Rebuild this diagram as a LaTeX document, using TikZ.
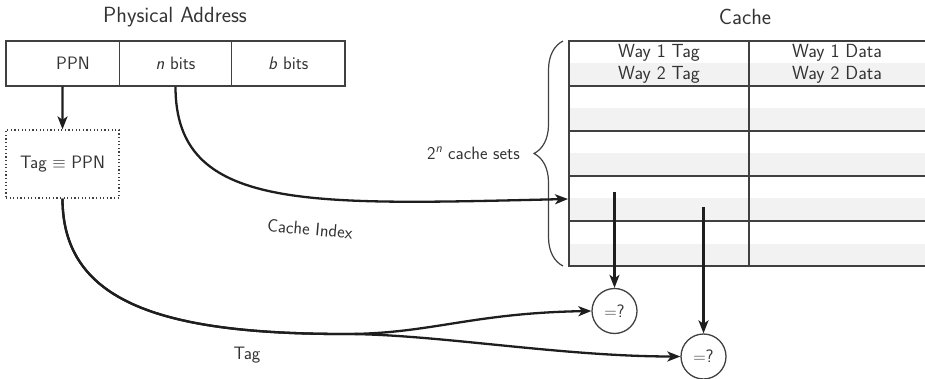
\documentclass[tikz,border=0pt]{standalone}
\usetikzlibrary{arrows.meta,decorations.pathreplacing}
\definecolor{ink}{HTML}{333333}
\definecolor{rule}{HTML}{404040}
\definecolor{wire}{HTML}{1E1E1E}
\definecolor{rowshade}{HTML}{F2F2F2}
\tikzset{
  txt/.style={font=\fontsize{18}{21}\selectfont\sffamily, text=ink, inner sep=0pt},
  celltxt/.style={font=\fontsize{19}{22}\selectfont\sffamily, text=ink, inner sep=0pt},
  heading/.style={font=\fontsize{22}{26}\selectfont\sffamily, text=ink, inner sep=0pt},
  field/.style={draw=rule, line width=1.4pt, minimum height=45pt, inner sep=0pt, txt},
  wirearrow/.style={draw=wire, line width=2.3pt, -{Stealth[length=13pt,width=10pt,inset=3.5pt]}},
  cmp/.style={circle, draw=rule, line width=1.3pt, minimum size=45pt, inner sep=0pt, txt},
  grid/.style={draw=rule, line width=1.4pt},
}
\begin{document}
\begin{tikzpicture}[x=1pt,y=-1pt]
\useasboundingbox (0,0) rectangle (925,379);

% titles
\node[heading] (paddr) at (175,17) {Physical Address};
\node[heading] (cachettl) at (745,17) {Cache};

% physical address fields
\node[field, minimum width=113.3pt] (ppn) at (62.6,63.5) {};
\node[txt] (ppntext) at (73,63.5) {PPN};
\node[field, minimum width=112.4pt] (nbits) at (175.5,63.5) {\textit{n} bits};
\node[field, minimum width=113.3pt] (bbits) at (288.3,63.5) {\textit{b} bits};

% tag box
\node[draw=rule, dash pattern=on 1.2pt off 2.4pt, line width=1.3pt,
      minimum width=113pt, minimum height=68pt, txt] (tagbox) at (62.5,164) {Tag $\equiv$ PPN};

% cache table: shaded second way of each set
\foreach \y in {63.5,108.5,153.5,198.5,243.5}
  \fill[rowshade] (569,\y) rectangle (926,\y+22.5);
\draw[grid] (569,41) rectangle (926,266);
\foreach \y in {86,131,176,221}
  \draw[grid] (569,\y) -- (926,\y);
\draw[grid] (749,41) -- (749,266);
\node[celltxt] (w1tag) at (659,52.5) {Way 1 Tag};
\node[celltxt] (w2tag) at (659,74.5) {Way 2 Tag};
\node[celltxt] (w1data) at (837,52.5) {Way 1 Data};
\node[celltxt] (w2data) at (837,74.5) {Way 2 Data};

% brace over the sets
\draw[rule, line width=1.2pt, decorate, decoration={brace, amplitude=29pt}] (563,266) -- (563,41);
\node[txt, anchor=east] (sets) at (520,153) {2\textsuperscript{\textit{n}} cache sets};

% comparators
\node[cmp] (eq1) at (614.5,311) {$=$?};
\node[cmp] (eq2) at (703.5,356.5) {$=$?};

% connection points
\coordinate (idx) at (568,199);
\coordinate (way1) at (614.5,192);
\coordinate (way2) at (703.5,207);
\coordinate (split) at (345,334);

% connectors
\draw[wirearrow] (ppn.south) -- (tagbox.north);
\draw[wirearrow] (nbits.south) .. controls +(0,125) and +(-260,6) .. (idx);
\draw[wirearrow] (tagbox.south) .. controls +(0,105) and +(-180,0) .. (split)
  .. controls +(85,0) and +(-120,2) .. (eq1.west);
\draw[wirearrow] (tagbox.south) .. controls +(0,105) and +(-180,0) .. (split)
  .. controls +(90,0) and +(-120,0) .. (eq2.west);
\draw[wirearrow] (way1) -- (eq1.north);
\draw[wirearrow] (way2) -- (eq2.north);

% labels
\node[txt, rotate=-5] (idxlbl) at (310,229) {Cache Index};
\node[txt] (taglbl) at (247,355) {Tag};
\end{tikzpicture}
\end{document}
